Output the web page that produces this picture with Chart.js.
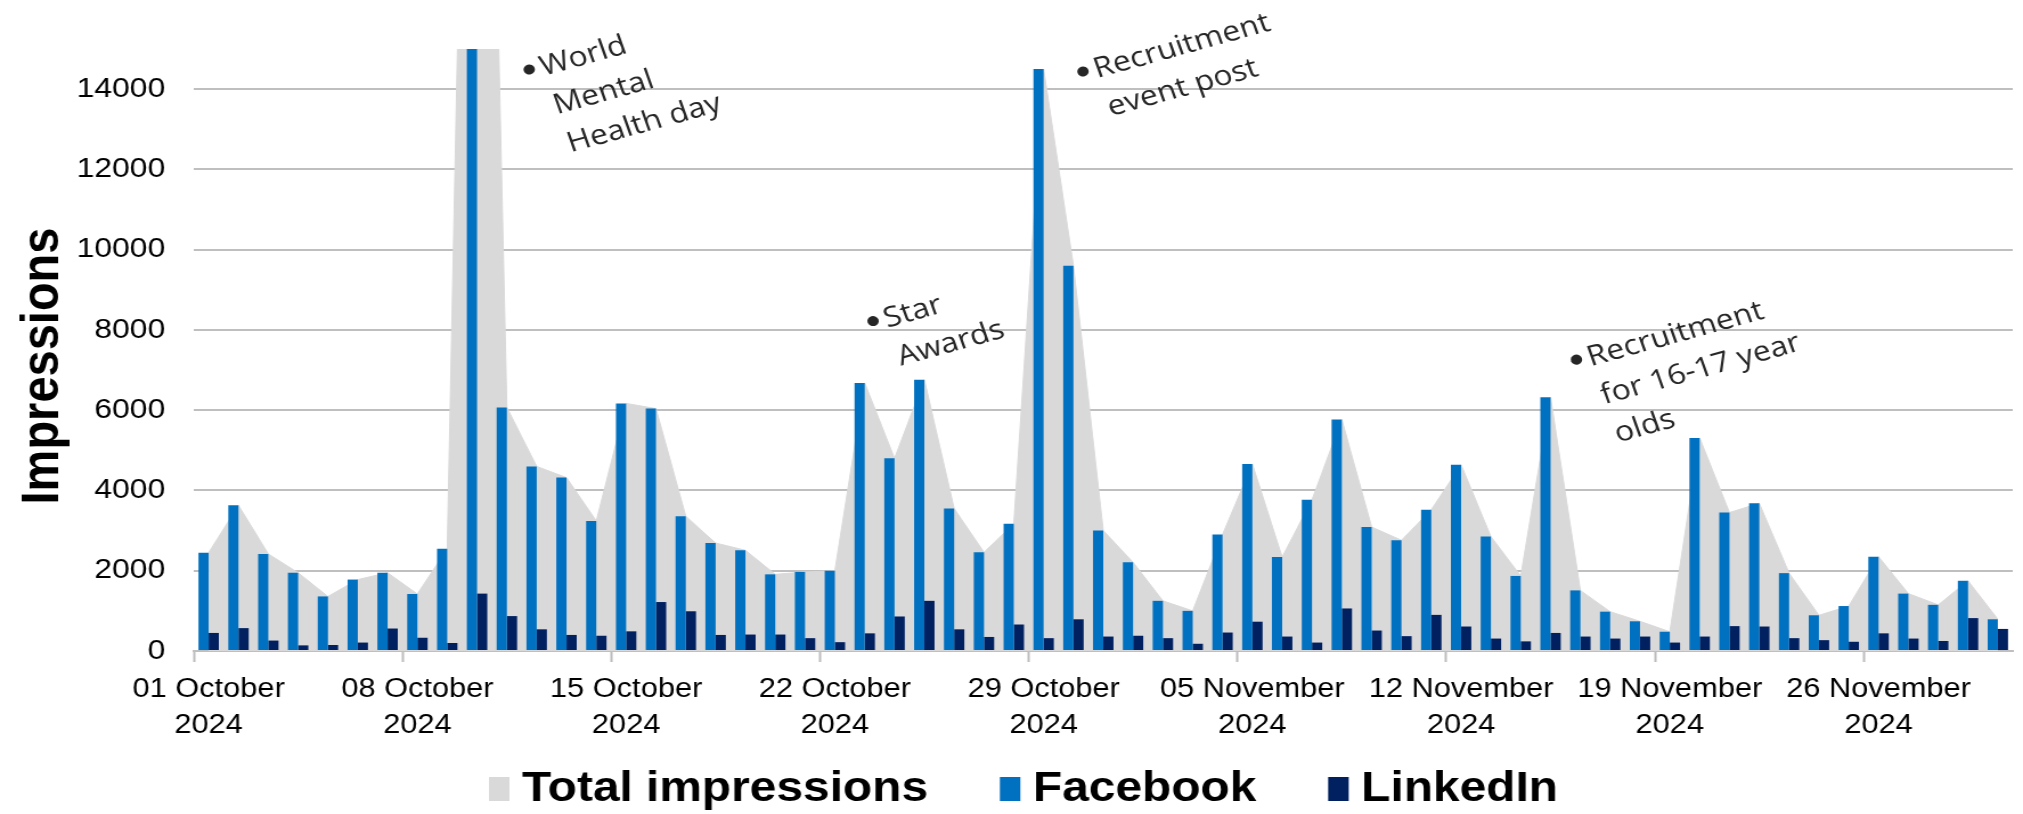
<!DOCTYPE html>
<html>
<head>
<meta charset="utf-8">
<title>Daily impressions, October–November 2024</title>
<script src="https://cdn.jsdelivr.net/npm/chart.js@4/dist/chart.umd.min.js"></script>
<style>
  html, body { margin: 0; padding: 0; background: #ffffff; overflow: hidden; }
  #chart { display: block; }
</style>
</head>
<body>
<!-- drawn 1775 wide and widened to 2023 by CSS, which gives the wide lettering -->
<canvas id="chart" width="1775" height="814" style="width:2023px;height:814px"></canvas>
<script>
// ---- data -------------------------------------------------------------
const days = [
  '01 October 2024', '02 October 2024', '03 October 2024', '04 October 2024', '05 October 2024',
  '06 October 2024', '07 October 2024', '08 October 2024', '09 October 2024', '10 October 2024',
  '11 October 2024', '12 October 2024', '13 October 2024', '14 October 2024', '15 October 2024',
  '16 October 2024', '17 October 2024', '18 October 2024', '19 October 2024', '20 October 2024',
  '21 October 2024', '22 October 2024', '23 October 2024', '24 October 2024', '25 October 2024',
  '26 October 2024', '27 October 2024', '28 October 2024', '29 October 2024', '30 October 2024',
  '31 October 2024',
  '01 November 2024', '02 November 2024', '03 November 2024', '04 November 2024', '05 November 2024',
  '06 November 2024', '07 November 2024', '08 November 2024', '09 November 2024', '10 November 2024',
  '11 November 2024', '12 November 2024', '13 November 2024', '14 November 2024', '15 November 2024',
  '16 November 2024', '17 November 2024', '18 November 2024', '19 November 2024', '20 November 2024',
  '21 November 2024', '22 November 2024', '23 November 2024', '24 November 2024', '25 November 2024',
  '26 November 2024', '27 November 2024', '28 November 2024', '29 November 2024', '30 November 2024'
];

const totalImpressions = [
  2450, 3630, 2420, 1950, 1360, 1780, 1950, 1420, 2550, 39000,
  6070, 4600, 4320, 3240, 6170, 6040, 3360, 2690, 2510, 1910,
  1970, 2000, 6680, 4800, 6760, 3550, 2460, 3170, 14500, 9600,
  3000,
  2210, 1250, 1000, 2900, 4660, 2340, 3770, 5770, 3090, 2760,
  3520, 4640, 2850, 1870, 6320, 1510, 980, 740, 480, 5310,
  3450, 3680, 1940, 890, 1120, 2350, 1430, 1150, 1750, 790
];

const facebook = [
  2450, 3630, 2420, 1950, 1360, 1780, 1950, 1420, 2550, 39000,
  6070, 4600, 4320, 3240, 6170, 6040, 3360, 2690, 2510, 1910,
  1970, 2000, 6680, 4800, 6760, 3550, 2460, 3170, 14500, 9600,
  3000,
  2210, 1250, 1000, 2900, 4660, 2340, 3770, 5770, 3090, 2760,
  3520, 4640, 2850, 1870, 6320, 1510, 980, 740, 480, 5310,
  3450, 3680, 1940, 890, 1120, 2350, 1430, 1150, 1750, 790
];

const linkedin = [
  450, 570, 260, 140, 150, 210, 560, 330, 200, 1430,
  870, 540, 400, 380, 490, 1220, 990, 400, 410, 410,
  320, 220, 440, 860, 1250, 540, 350, 660, 320, 790,
  360,
  380, 320, 180, 460, 730, 360, 210, 1060, 510, 370,
  900, 610, 310, 240, 450, 360, 310, 360, 210, 360,
  620, 610, 320, 270, 230, 440, 310, 250, 820, 550
];

const yTicks = [0, 2000, 4000, 6000, 8000, 10000, 12000, 14000];
const yMax = 15000;

// days that carry an axis label (one a week)
const labelledDays = [
  '01 October 2024', '08 October 2024', '15 October 2024', '22 October 2024', '29 October 2024',
  '05 November 2024', '12 November 2024', '19 November 2024', '26 November 2024'
];

// event notes: position on the date axis (fractional day index) and the height they sit at
const eventNotes = [
  { lines: ['World', 'Mental', 'Health day'], at: [10.75, 14490] },
  { lines: ['Star', 'Awards'], at: [22.28, 8220] },
  { lines: ['Recruitment', 'event post'], at: [29.32, 14440] },
  { lines: ['Recruitment', 'for 16-17 year', 'olds'], at: [45.87, 7260] }
];

// ---- styling -----------------------------------------------------------
const FONT = '"Liberation Sans", Arial, sans-serif';
const GRID = '#bfbfbf';

function splitDay(label) {
  const parts = label.split(' ');
  return [parts[0] + ' ' + parts[1], parts[2]];
}

// rotated event notes with a bullet in front
const eventNotePlugin = {
  id: 'eventNotes',
  afterDraw(chart) {
    const { ctx } = chart;
    const xs = chart.scales.x, ys = chart.scales.y;
    const angle = 17.4 * Math.PI / 180;
    ctx.save();
    ctx.fillStyle = '#262626';
    ctx.font = '28px "Open Sans", "Noto Sans", sans-serif';
    ctx.textAlign = 'left';
    ctx.textBaseline = 'alphabetic';
    eventNotes.forEach(note => {
      const px = xs.getPixelForValue(note.at[0]);
      const py = ys.getPixelForValue(note.at[1]);
      ctx.save();
      ctx.translate(px, py);
      ctx.rotate(-angle);
      ctx.beginPath();
      ctx.arc(0, 0, 5, 0, Math.PI * 2);
      ctx.fill();
      note.lines.forEach((line, i) => ctx.fillText(line, 10, 10 + i * 40));
      ctx.restore();
    });
    ctx.restore();
  }
};

// vertical axis title and the legend row underneath the date labels
const frameTextPlugin = {
  id: 'frameText',
  afterDraw(chart) {
    const { ctx } = chart;
    const area = chart.chartArea;

    ctx.save();
    ctx.translate(38, 366);
    ctx.rotate(-Math.PI / 2);
    ctx.font = 'bold 47px ' + FONT;
    ctx.fillStyle = '#000000';
    ctx.textAlign = 'center';
    ctx.textBaseline = 'middle';
    ctx.fillText('Impressions', 0, 0);
    ctx.restore();

    ctx.save();
    ctx.font = 'bold 42px ' + FONT;
    ctx.textAlign = 'left';
    ctx.textBaseline = 'alphabetic';
    const box = 18, boxH = 24, gap = 11, spacing = 63;
    const items = chart.data.datasets.map(ds => ({
      text: ds.label,
      color: ds.backgroundColor,
      width: ctx.measureText(ds.label).width
    }));
    const rowWidth = items.reduce((s, it) => s + box + gap + it.width, 0) + spacing * (items.length - 1);
    let x = 898 - rowWidth / 2;
    const baseline = area.bottom + 150;
    items.forEach(it => {
      ctx.fillStyle = it.color;
      ctx.fillRect(x, baseline - boxH, box, boxH);
      ctx.fillStyle = '#000000';
      ctx.fillText(it.text, x + box + gap, baseline);
      x += box + gap + it.width + spacing;
    });
    ctx.restore();
  }
};

new Chart(document.getElementById('chart'), {
  type: 'bar',
  data: {
    labels: days,
    datasets: [
      {
        type: 'line',
        label: 'Total impressions',
        data: totalImpressions,
        fill: 'origin',
        backgroundColor: '#d9d9d9',
        borderColor: '#d9d9d9',
        borderWidth: 1,
        pointRadius: 0,
        tension: 0,
        order: 1,
        clip: 0
      },
      {
        label: 'Facebook',
        data: facebook,
        backgroundColor: '#0070c0',
        borderWidth: 0,
        categoryPercentage: 0.684,
        barPercentage: 1,
        order: 0,
        clip: 0
      },
      {
        label: 'LinkedIn',
        data: linkedin,
        backgroundColor: '#002060',
        borderWidth: 0,
        categoryPercentage: 0.684,
        barPercentage: 1,
        order: 0,
        clip: 0
      }
    ]
  },
  options: {
    responsive: false,
    animation: false,
    devicePixelRatio: 1,
    events: [],
    layout: { padding: { top: 49, right: 9, bottom: 68, left: 0 } },
    plugins: {
      tooltip: { enabled: false },
      legend: { display: false }
    },
    scales: {
      x: {
        offset: true,
        border: { display: true, color: GRID, width: 2 },
        grid: {
          offset: true,
          drawOnChartArea: false,
          drawTicks: true,
          tickLength: 11,
          tickWidth: 2,
          tickColor: ctx => (ctx.index % 7 === 0 ? '#bdbdbd' : 'rgba(0,0,0,0)')
        },
        ticks: {
          autoSkip: false,
          maxRotation: 0,
          minRotation: 0,
          padding: 10,
          color: '#000000',
          font: { family: FONT, size: 27, lineHeight: 1.333 },
          callback: (value, index) => {
            const d = days[index];
            return labelledDays.includes(d) ? splitDay(d) : '';
          }
        },
        afterFit: scale => { scale.height = 95; }
      },
      y: {
        min: 0,
        max: yMax,
        border: { display: false },
        grid: { color: GRID, lineWidth: 2, drawTicks: false },
        afterBuildTicks: scale => { scale.ticks = yTicks.map(v => ({ value: v })); },
        ticks: {
          padding: 25,
          color: '#000000',
          font: { family: FONT, size: 28 },
          callback: v => String(v)
        },
        afterFit: scale => { scale.width = 170; }
      }
    }
  },
  plugins: [eventNotePlugin, frameTextPlugin]
});
</script>
</body>
</html>
